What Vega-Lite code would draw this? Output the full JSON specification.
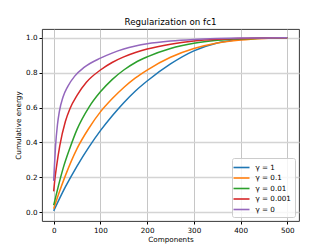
{
  "$schema": "https://vega.github.io/schema/vega-lite/v6.json",
  "width": 257,
  "height": 192,
  "autosize": {"type": "none"},
  "padding": {"left": 42, "top": 29, "right": 33, "bottom": 28},
  "background": "white",
  "title": {"text": "Regularization on fc1", "font": "DejaVu Sans", "fontSize": 8.7, "fontWeight": "normal", "color": "#000", "offset": 2},
  "config": {
    "view": {"stroke": "#222", "strokeWidth": 0.9},
    "axis": {"labelFont": "DejaVu Sans", "titleFont": "DejaVu Sans", "labelFontSize": 7.2, "titleFontSize": 7.2, "titleFontWeight": "normal", "labelColor": "#000", "titleColor": "#000", "tickColor": "#000", "tickSize": 3, "domain": false, "gridColor": "#b8b8b8", "gridWidth": 0.8}
  },
  "data": {"values": [
    {"c": 0, "e": 0.008, "g": "γ = 1"}, {"c": 25, "e": 0.145, "g": "γ = 1"}, {"c": 50, "e": 0.265, "g": "γ = 1"}, {"c": 75, "e": 0.372, "g": "γ = 1"}, {"c": 100, "e": 0.468, "g": "γ = 1"}, {"c": 125, "e": 0.552, "g": "γ = 1"}, {"c": 150, "e": 0.628, "g": "γ = 1"}, {"c": 175, "e": 0.695, "g": "γ = 1"}, {"c": 200, "e": 0.752, "g": "γ = 1"}, {"c": 250, "e": 0.85, "g": "γ = 1"}, {"c": 300, "e": 0.925, "g": "γ = 1"}, {"c": 350, "e": 0.97, "g": "γ = 1"}, {"c": 400, "e": 0.99, "g": "γ = 1"}, {"c": 450, "e": 0.998, "g": "γ = 1"}, {"c": 500, "e": 1.0, "g": "γ = 1"},
    {"c": 0, "e": 0.02, "g": "γ = 0.1"}, {"c": 10, "e": 0.1, "g": "γ = 0.1"}, {"c": 25, "e": 0.21, "g": "γ = 0.1"}, {"c": 50, "e": 0.365, "g": "γ = 0.1"}, {"c": 75, "e": 0.48, "g": "γ = 0.1"}, {"c": 100, "e": 0.575, "g": "γ = 0.1"}, {"c": 125, "e": 0.65, "g": "γ = 0.1"}, {"c": 150, "e": 0.715, "g": "γ = 0.1"}, {"c": 175, "e": 0.77, "g": "γ = 0.1"}, {"c": 200, "e": 0.815, "g": "γ = 0.1"}, {"c": 250, "e": 0.888, "g": "γ = 0.1"}, {"c": 300, "e": 0.938, "g": "γ = 0.1"}, {"c": 350, "e": 0.97, "g": "γ = 0.1"}, {"c": 400, "e": 0.987, "g": "γ = 0.1"}, {"c": 450, "e": 0.996, "g": "γ = 0.1"}, {"c": 500, "e": 1.0, "g": "γ = 0.1"},
    {"c": 0, "e": 0.04, "g": "γ = 0.01"}, {"c": 5, "e": 0.095, "g": "γ = 0.01"}, {"c": 10, "e": 0.15, "g": "γ = 0.01"}, {"c": 20, "e": 0.25, "g": "γ = 0.01"}, {"c": 35, "e": 0.37, "g": "γ = 0.01"}, {"c": 50, "e": 0.475, "g": "γ = 0.01"}, {"c": 75, "e": 0.6, "g": "γ = 0.01"}, {"c": 100, "e": 0.69, "g": "γ = 0.01"}, {"c": 125, "e": 0.76, "g": "γ = 0.01"}, {"c": 150, "e": 0.815, "g": "γ = 0.01"}, {"c": 175, "e": 0.858, "g": "γ = 0.01"}, {"c": 200, "e": 0.89, "g": "γ = 0.01"}, {"c": 250, "e": 0.938, "g": "γ = 0.01"}, {"c": 300, "e": 0.968, "g": "γ = 0.01"}, {"c": 350, "e": 0.985, "g": "γ = 0.01"}, {"c": 400, "e": 0.994, "g": "γ = 0.01"}, {"c": 450, "e": 0.998, "g": "γ = 0.01"}, {"c": 500, "e": 1.0, "g": "γ = 0.01"},
    {"c": 0, "e": 0.12, "g": "γ = 0.001"}, {"c": 3, "e": 0.2, "g": "γ = 0.001"}, {"c": 6, "e": 0.26, "g": "γ = 0.001"}, {"c": 13, "e": 0.38, "g": "γ = 0.001"}, {"c": 25, "e": 0.52, "g": "γ = 0.001"}, {"c": 35, "e": 0.595, "g": "γ = 0.001"}, {"c": 50, "e": 0.67, "g": "γ = 0.001"}, {"c": 70, "e": 0.745, "g": "γ = 0.001"}, {"c": 100, "e": 0.815, "g": "γ = 0.001"}, {"c": 125, "e": 0.858, "g": "γ = 0.001"}, {"c": 150, "e": 0.89, "g": "γ = 0.001"}, {"c": 175, "e": 0.915, "g": "γ = 0.001"}, {"c": 200, "e": 0.935, "g": "γ = 0.001"}, {"c": 250, "e": 0.963, "g": "γ = 0.001"}, {"c": 300, "e": 0.981, "g": "γ = 0.001"}, {"c": 350, "e": 0.991, "g": "γ = 0.001"}, {"c": 400, "e": 0.996, "g": "γ = 0.001"}, {"c": 450, "e": 0.999, "g": "γ = 0.001"}, {"c": 500, "e": 1.0, "g": "γ = 0.001"},
    {"c": 0, "e": 0.18, "g": "γ = 0"}, {"c": 1.5, "e": 0.26, "g": "γ = 0"}, {"c": 4, "e": 0.38, "g": "γ = 0"}, {"c": 8, "e": 0.5, "g": "γ = 0"}, {"c": 12, "e": 0.575, "g": "γ = 0"}, {"c": 20, "e": 0.66, "g": "γ = 0"}, {"c": 30, "e": 0.72, "g": "γ = 0"}, {"c": 45, "e": 0.78, "g": "γ = 0"}, {"c": 65, "e": 0.83, "g": "γ = 0"}, {"c": 100, "e": 0.883, "g": "γ = 0"}, {"c": 125, "e": 0.912, "g": "γ = 0"}, {"c": 150, "e": 0.935, "g": "γ = 0"}, {"c": 175, "e": 0.952, "g": "γ = 0"}, {"c": 200, "e": 0.965, "g": "γ = 0"}, {"c": 250, "e": 0.981, "g": "γ = 0"}, {"c": 300, "e": 0.99, "g": "γ = 0"}, {"c": 350, "e": 0.995, "g": "γ = 0"}, {"c": 400, "e": 0.998, "g": "γ = 0"}, {"c": 450, "e": 0.999, "g": "γ = 0"}, {"c": 500, "e": 1.0, "g": "γ = 0"}
  ]},
  "mark": {"type": "line", "interpolate": "monotone", "strokeWidth": 1.5},
  "encoding": {
    "x": {"field": "c", "type": "quantitative", "scale": {"domain": [-25, 525], "nice": false, "zero": false}, "axis": {"title": "Components", "values": [0, 100, 200, 300, 400, 500], "titlePadding": 2, "labelPadding": 2}},
    "y": {"field": "e", "type": "quantitative", "scale": {"domain": [-0.05, 1.05], "nice": false, "zero": false}, "axis": {"title": "Cumulative energy", "values": [0, 0.2, 0.4, 0.6, 0.8, 1.0], "format": ".1f", "titlePadding": 3, "labelPadding": 2, "gridColor": "#d4d4d4", "gridWidth": 1.3}},
    "color": {"field": "g", "type": "nominal", "sort": ["γ = 1", "γ = 0.1", "γ = 0.01", "γ = 0.001", "γ = 0"],
      "scale": {"domain": ["γ = 1", "γ = 0.1", "γ = 0.01", "γ = 0.001", "γ = 0"], "range": ["#1f77b4", "#ff7f0e", "#2ca02c", "#d62728", "#9467bd"]},
      "legend": {"title": null, "orient": "bottom-right", "offset": 4, "padding": 3.5, "fillColor": "rgba(255,255,255,0.8)", "strokeColor": "#cccccc", "cornerRadius": 2, "symbolType": "M-1.6,0H1.6", "symbolSize": 100, "symbolStrokeWidth": 1.6, "labelFont": "DejaVu Sans", "labelFontSize": 7.2, "labelColor": "#000", "rowPadding": 0.5, "labelOffset": 8}}
  }
}
